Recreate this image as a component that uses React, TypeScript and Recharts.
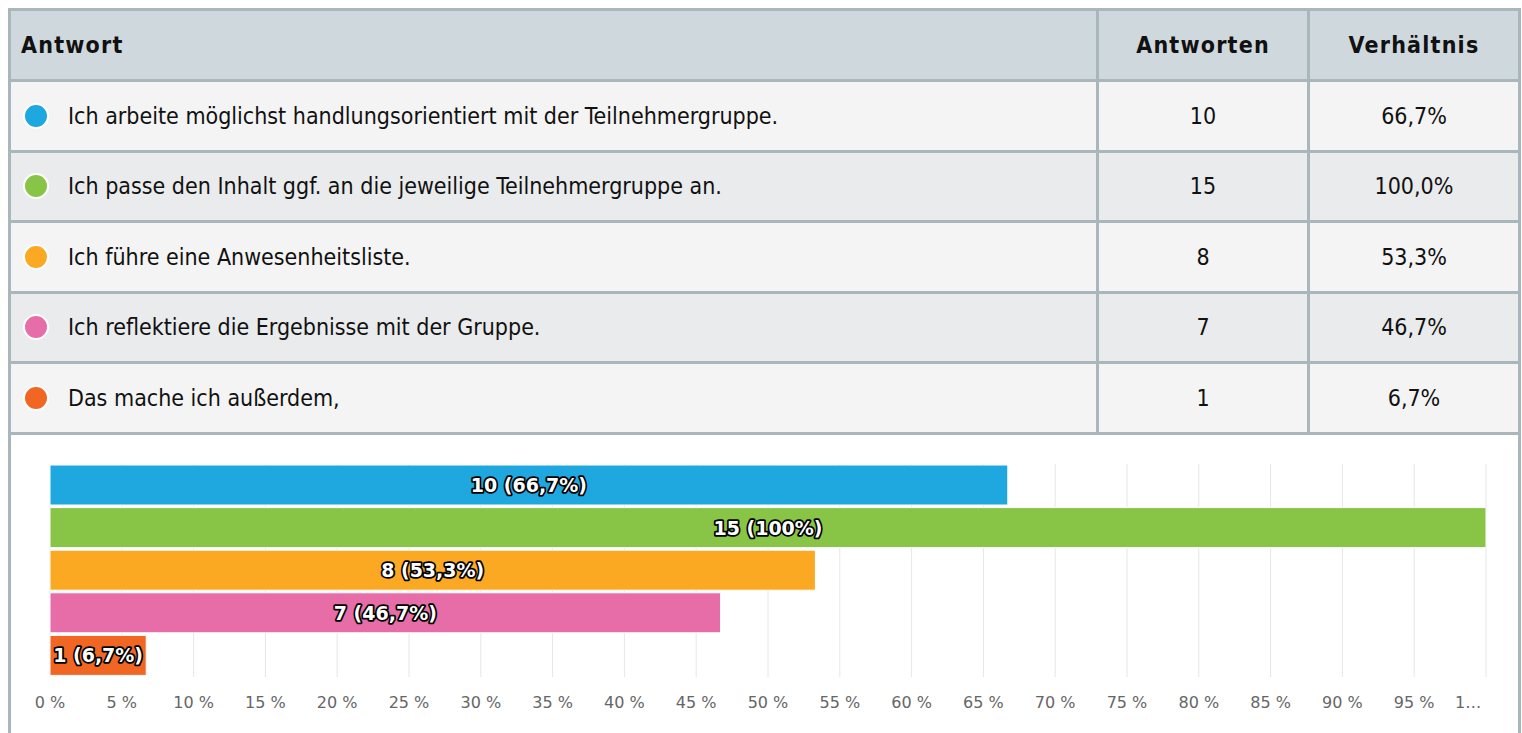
import React from 'react'
import { BarChart, Bar, XAxis, YAxis, CartesianGrid, Cell, LabelList } from 'recharts'

const answers = [
  'Ich arbeite möglichst handlungsorientiert mit der Teilnehmergruppe.',
  'Ich passe den Inhalt ggf. an die jeweilige Teilnehmergruppe an.',
  'Ich führe eine Anwesenheitsliste.',
  'Ich reflektiere die Ergebnisse mit der Gruppe.',
  'Das mache ich außerdem,',
]
const counts = [10, 15, 8, 7, 1]
const ratios = [66.7, 100, 53.3, 46.7, 6.7]
const ratioLabels = ['66,7%', '100,0%', '53,3%', '46,7%', '6,7%']
const barLabels = ['66,7%', '100%', '53,3%', '46,7%', '6,7%']
const colors = ['#1fa8e0', '#88c546', '#fba823', '#e76da9', '#f26624']
const xTicks = [0, 5, 10, 15, 20, 25, 30, 35, 40, 45, 50, 55, 60, 65, 70, 75, 80, 85, 90, 95, 100]

const data = answers.map((name, i) => ({
  name,
  value: ratios[i],
  label: `${counts[i]} (${barLabels[i]})`,
}))

const BORDER = '#a9b7bd'
const tableFont = '"Liberation Sans Narrow", "DejaVu Sans Condensed", sans-serif'

const BarLabel = (props: any) => {
  const { x, y, width, height, value } = props
  return (
    <text
      x={x + width / 2}
      y={y + height / 2}
      textAnchor="middle"
      dominantBaseline="central"
      fill="#fff"
      stroke="#000"
      strokeWidth={3.5}
      strokeLinejoin="round"
      paintOrder="stroke"
      style={{ fontFamily: '"DejaVu Sans", sans-serif', fontWeight: 'bold', fontSize: 19 }}
    >
      {value}
    </text>
  )
}

// last label is cut off to "1…" and pulled left like in the original
const XTick = (props: any) => {
  const { x, y, payload } = props
  const last = payload.value === 100
  return (
    <text
      x={last ? x - 31 : x}
      y={y}
      dy="0.71em"
      textAnchor={last ? 'start' : 'middle'}
      fill="#666"
      style={{ fontFamily: '"DejaVu Sans", sans-serif', fontSize: 16 }}
    >
      {last ? '1…' : `${payload.value} %`}
    </text>
  )
}

export default function App() {
  const cell = (w: number, extra: React.CSSProperties = {}) => ({
    width: w,
    display: 'flex',
    alignItems: 'center',
    boxSizing: 'border-box' as const,
    ...extra,
  })

  return (
    <div
      style={{
        position: 'fixed',
        left: 8,
        top: 8,
        width: 1513,
        height: 725,
        overflow: 'hidden',
        borderTop: `3px solid ${BORDER}`,
        borderLeft: `3px solid ${BORDER}`,
        borderRight: `3px solid ${BORDER}`,
        boxSizing: 'border-box',
        fontFamily: tableFont,
        color: '#111',
        background: '#fff',
      }}
    >
      <div style={{ display: 'flex', height: 68, background: '#cfd8dc', borderBottom: `3px solid ${BORDER}`, fontWeight: 'bold', fontSize: 23, letterSpacing: 1.2 }}>
        <div style={cell(1085, { paddingLeft: 10 })}>Antwort</div>
        <div style={cell(211, { justifyContent: 'center', borderLeft: `3px solid ${BORDER}` })}>Antworten</div>
        <div style={cell(211, { justifyContent: 'center', borderLeft: `3px solid ${BORDER}` })}>Verhältnis</div>
      </div>
      {answers.map((a, i) => (
        <div
          key={a}
          style={{
            display: 'flex',
            height: 67.5,
            background: i % 2 === 0 ? '#f4f4f4' : '#e9ebec',
            borderBottom: `3px solid ${BORDER}`,
            fontSize: 23,
          }}
        >
          <div style={cell(1085, { paddingLeft: 12 })}>
            <span
              style={{
                display: 'inline-block',
                width: 22,
                height: 22,
                borderRadius: '50%',
                background: colors[i],
                border: '2px solid #fff',
                marginRight: 19,
              }}
            />
            {a}
          </div>
          <div style={cell(211, { justifyContent: 'center', borderLeft: `3px solid ${BORDER}` })}>{counts[i]}</div>
          <div style={cell(211, { justifyContent: 'center', borderLeft: `3px solid ${BORDER}` })}>{ratioLabels[i]}</div>
        </div>
      ))}
      <BarChart
        width={1507}
        height={300}
        data={data}
        layout="vertical"
        margin={{ top: 29, right: 32, left: 39, bottom: 28 }}
        barSize={40}
      >
        <CartesianGrid horizontal={false} stroke="#e6e6e6" />
        <XAxis
          type="number"
          domain={[0, 100]}
          ticks={xTicks}
          interval={0}
          axisLine={false}
          tickLine={false}
          tickMargin={14}
          tick={<XTick />}
        />
        <YAxis type="category" dataKey="name" hide />
        <Bar dataKey="value" stroke="#fff" strokeWidth={1} isAnimationActive={false}>
          {data.map((d, i) => (
            <Cell key={d.name} fill={colors[i]} />
          ))}
          <LabelList dataKey="label" content={<BarLabel />} />
        </Bar>
      </BarChart>
    </div>
  )
}
